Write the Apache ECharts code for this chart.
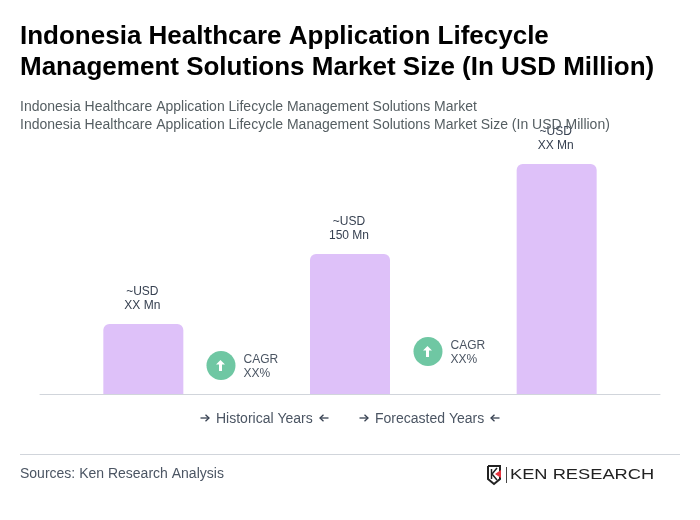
<!DOCTYPE html>
<html>
<head>
<meta charset="utf-8">
<style>
html, body { margin: 0; padding: 0; background: #fff; }
#chart { width: 700px; height: 520px; }
</style>
<script src="https://cdn.jsdelivr.net/npm/echarts@6/dist/echarts.min.js"></script>
</head>
<body>
<div id="chart"></div>
<script>
const categories = ['Year 1', 'Year 2', 'Year 3'];
const values = [75, 150, 246.5];
const barLabels = ['~USD\nXX Mn', '~USD\n150 Mn', '~USD\nXX Mn'];
const cagrLabels = ['CAGR\nXX%', 'CAGR\nXX%'];
const periodLabels = ['Historical Years', 'Forecasted Years'];

const font = '"Liberation Sans", Arial, sans-serif';
const grey = '#4b5563';

function text(x, y, str, style) {
	return {type: 'text', x: x, y: y, style: Object.assign({text: str, fontFamily: font, fontSize: 14, fill: grey}, style)};
}

function cagrBadge(cx, cy, label) {
	return [
		{type: 'circle', shape: {cx: cx, cy: cy, r: 14.5}, style: {fill: '#6fc7a3'}},
		{type: 'polygon', shape: {points: [[cx - 0.5, cy - 5.5], [cx + 4, cy - 1], [cx + 1, cy - 1], [cx + 1, cy + 5.5], [cx - 2, cy + 5.5], [cx - 2, cy - 1], [cx - 5, cy - 1]]}, style: {fill: '#fff'}},
		text(cx + 22.5, cy - 12.5, label, {fontSize: 12, lineHeight: 14, fill: grey}),
	];
}

function arrow(x, y, dir) {
	// shaft + open head, dir 1 points right, -1 left
	return [
		{type: 'line', shape: {x1: x - 4.5 * dir, y1: y, x2: x + 3.5 * dir, y2: y}, style: {stroke: '#374151', lineWidth: 1.3}},
		{type: 'polyline', shape: {points: [[x + 0.5 * dir, y - 3.2], [x + 4 * dir, y], [x + 0.5 * dir, y + 3.2]]}, style: {stroke: '#374151', lineWidth: 1.3, fill: 'none'}},
	];
}

const chart = echarts.init(document.getElementById('chart'), null, {renderer: 'canvas'});
chart.setOption({
	animation: false,
	backgroundColor: '#fff',
	textStyle: {fontFamily: font},
	title: [
		{
			text: 'Indonesia Healthcare Application Lifecycle\nManagement Solutions Market Size (In USD Million)',
			left: 20, top: 21, padding: 0,
			textStyle: {fontFamily: font, fontSize: 26, fontWeight: 'bold', color: '#000', lineHeight: 31},
		},
		{
			text: 'Indonesia Healthcare Application Lifecycle Management Solutions Market\nIndonesia Healthcare Application Lifecycle Management Solutions Market Size (In USD Million)',
			left: 20, top: 98, padding: 0,
			textStyle: {fontFamily: font, fontSize: 14, fontWeight: 'normal', color: '#555e62', lineHeight: 18},
		},
	],
	grid: {left: 40, right: 40, top: 114, height: 280},
	xAxis: {
		type: 'category',
		data: categories,
		axisLine: {lineStyle: {color: '#d1d5db', width: 1}},
		axisTick: {show: false},
		axisLabel: {show: false},
	},
	yAxis: {
		type: 'value',
		min: 0,
		max: 300,
		show: false,
		splitLine: {show: false},
	},
	series: [{
		type: 'bar',
		data: values,
		barWidth: 80,
		itemStyle: {color: '#dec1f9', borderRadius: [6, 6, 0, 0]},
		label: {
			show: true,
			position: 'top',
			distance: 11,
			offset: [-1, 0],
			formatter: p => barLabels[p.dataIndex],
			fontFamily: font,
			fontSize: 12,
			lineHeight: 14,
			color: '#374151',
		},
	}],
	graphic: [
		...cagrBadge(221, 365.5, cagrLabels[0]),
		...cagrBadge(428, 351.5, cagrLabels[1]),
		...arrow(205, 418, 1),
		text(216, 412, periodLabels[0]),
		...arrow(324, 418, -1),
		...arrow(364, 418, 1),
		text(375, 412, periodLabels[1]),
		...arrow(495, 418, -1),
		{type: 'line', shape: {x1: 20, y1: 454.5, x2: 680, y2: 454.5}, style: {stroke: '#d1d5db', lineWidth: 1}},
		text(20, 467, 'Sources: Ken Research Analysis'),
		// logo
		{type: 'polyline', shape: {points: [[488, 466], [500, 466], [500, 479], [494, 484], [488, 479], [488, 466]]}, style: {stroke: '#222', lineWidth: 2, fill: 'none'}},
		{type: 'line', shape: {x1: 491.5, y1: 469, x2: 491.5, y2: 479}, style: {stroke: '#222', lineWidth: 1.5}},
		{type: 'polyline', shape: {points: [[497, 468], [492, 474], [497, 480]]}, style: {stroke: '#222', lineWidth: 1.5, fill: 'none'}},
		{type: 'polygon', shape: {points: [[501, 470], [501, 478], [495, 474]]}, style: {fill: '#e5343f'}},
		{type: 'line', shape: {x1: 506.5, y1: 467, x2: 506.5, y2: 483}, style: {stroke: '#444', lineWidth: 1}},
		{type: 'text', x: 510, y: 468, scaleX: 1.305, style: {text: 'KEN RESEARCH', fontFamily: font, fontSize: 14, fill: '#222'}},
	],
});
</script>
</body>
</html>
